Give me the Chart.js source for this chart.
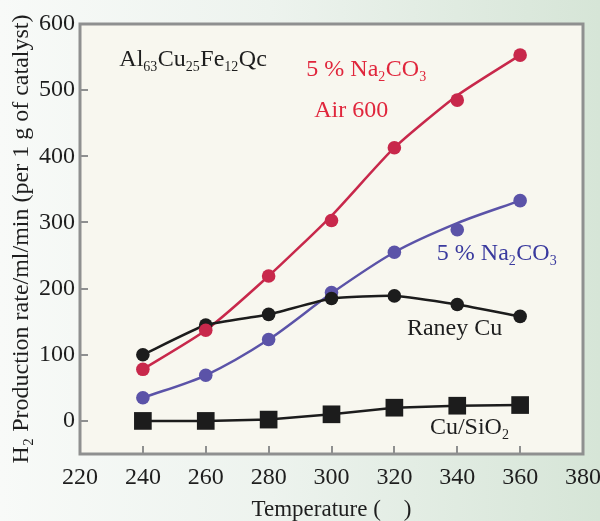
<!DOCTYPE html>
<html>
<head>
<meta charset="utf-8">
<script src="https://cdn.jsdelivr.net/npm/chart.js@4/dist/chart.umd.min.js"></script>
<style>
  html, body { margin: 0; padding: 0; }
  body {
    width: 600px; height: 521px; overflow: hidden;
    background: linear-gradient(to right, #f8faf8 0%, #edf3ee 45%, #d6e5d7 100%);
  }
  canvas { display: block; }
</style>
</head>
<body>
<canvas id="c" width="600" height="521"></canvas>
<script>
// ---- data ----
const temperatures = [240, 260, 280, 300, 320, 340, 360];
// measured points
const naAir600 = [78, 137, 219, 303, 413, 485, 553];
const na2co3 = [35, 69, 123, 194, 255, 289, 333];
const raneyCu = [100, 145, 161, 185, 189, 176, 158];
const cuSiO2 = [0, 0, 2, 10, 20, 23, 24];
// smooth trend curves as drawn in the figure (read at each temperature)
const naAir600Curve = [78, 137, 219, 310, 413, 492, 553];
const na2co3Curve = [35, 69, 123, 193, 255, 299, 333];
const xTickValues = [220, 240, 260, 280, 300, 320, 340, 360, 380];
const yTickValues = [0, 100, 200, 300, 400, 500, 600];

// annotation texts: segments [text, isSubscript]
const annotations = [
  { parts: [["Al", 0], ["63", 1], ["Cu", 0], ["25", 1], ["Fe", 0], ["12", 1], ["Qc", 0]], x: 232.5, y: 536, color: "#1e1e1e" },
  { parts: [["5 % Na", 0], ["2", 1], ["CO", 0], ["3", 1]], x: 292, y: 521, color: "#e0263c" },
  { parts: [["Air 600", 0]], x: 294.5, y: 459, color: "#e0263c" },
  { parts: [["5 % Na", 0], ["2", 1], ["CO", 0], ["3", 1]], x: 333.5, y: 244, color: "#3a3a9e" },
  { parts: [["Raney Cu", 0]], x: 324, y: 129.5, color: "#1e1e1e" },
  { parts: [["Cu/SiO", 0], ["2", 1]], x: 331.3, y: -19.5, color: "#1e1e1e" }
];

const SERIF = "'Liberation Serif', 'Times New Roman', serif";
const FRAME = "#8f9090";
const RED = '#c8284b', BLUE = '#5b53a8', BLACK = '#1c1c1c';

function pts(vals) { return temperatures.map((t, i) => ({ x: t, y: vals[i] })); }

const framePlugin = {
  id: 'frame',
  beforeDatasetsDraw(chart) {
    const { ctx, chartArea: a } = chart;
    ctx.save();
    ctx.fillStyle = "#f8f7ef";
    ctx.fillRect(a.left, a.top, a.right - a.left, a.bottom - a.top);
    ctx.strokeStyle = FRAME;
    ctx.lineWidth = 2;
    const xs = chart.scales.x, ys = chart.scales.y;
    ctx.beginPath();
    xTickValues.forEach(v => {
      const px = Math.round(xs.getPixelForValue(v));
      ctx.moveTo(px, a.bottom); ctx.lineTo(px, a.bottom - 8);
    });
    yTickValues.forEach(v => {
      const py = Math.round(ys.getPixelForValue(v));
      ctx.moveTo(a.left, py); ctx.lineTo(a.left + 8, py);
    });
    ctx.stroke();
    ctx.lineWidth = 3;
    ctx.strokeRect(a.left, a.top, a.right - a.left, a.bottom - a.top);
    ctx.restore();
  },
  afterDatasetsDraw(chart) {
    const { ctx } = chart;
    const xs = chart.scales.x, ys = chart.scales.y;
    ctx.save();
    ctx.textBaseline = 'alphabetic';
    ctx.textAlign = 'left';
    annotations.forEach(an => {
      let px = xs.getPixelForValue(an.x);
      const py = ys.getPixelForValue(an.y);
      ctx.fillStyle = an.color;
      an.parts.forEach(([t, sub]) => {
        ctx.font = (sub ? "14px " : "24px ") + SERIF;
        ctx.fillText(t, px, py + (sub ? 5 : 0));
        px += ctx.measureText(t).width + (sub ? 0.5 : 0);
      });
    });
    ctx.restore();
  }
};

new Chart(document.getElementById('c'), {
  type: 'scatter',
  data: {
    datasets: [
      { label: '5 % Na2CO3 Air 600', data: pts(naAir600), showLine: false,
        backgroundColor: RED, borderColor: RED, pointRadius: 6.8, pointBorderWidth: 0 },
      { label: 'Raney Cu', data: pts(raneyCu), showLine: true,
        borderColor: BLACK, backgroundColor: BLACK, borderWidth: 2.5,
        pointRadius: 6.8, pointBorderWidth: 0, tension: 0.15 },
      { label: 'trend Air 600', data: pts(naAir600Curve), showLine: true,
        borderColor: RED, borderWidth: 2.5, pointRadius: 0, tension: 0.2 },
      { label: '5 % Na2CO3', data: pts(na2co3), showLine: false,
        backgroundColor: BLUE, borderColor: BLUE, pointRadius: 6.8, pointBorderWidth: 0 },
      { label: 'trend Na2CO3', data: pts(na2co3Curve), showLine: true,
        borderColor: BLUE, borderWidth: 2.5, pointRadius: 0, tension: 0.3 },
      { label: 'Cu/SiO2', data: pts(cuSiO2), showLine: true,
        borderColor: BLACK, backgroundColor: BLACK, borderWidth: 2.5,
        pointStyle: 'rect', pointRadius: 12.5, pointBorderWidth: 0, tension: 0 }
    ]
  },
  options: {
    responsive: false,
    animation: false,
    devicePixelRatio: 1,
    layout: { padding: { top: 24, right: 17, left: 0, bottom: 0 } },
    plugins: { legend: { display: false }, tooltip: { enabled: false } },
    scales: {
      x: {
        type: 'linear', min: 220, max: 380,
        afterBuildTicks: s => { s.ticks = xTickValues.map(v => ({ value: v })); },
        afterFit: s => { s.height = 67; s.paddingLeft = 0; s.paddingRight = 0; },
        grid: { display: false, drawTicks: false },
        border: { display: false },
        ticks: { color: '#1e1e1e', font: { family: SERIF, size: 24 }, padding: 9, maxRotation: 0 },
        title: { display: true, text: 'Temperature (    )', color: '#1e1e1e',
                 font: { family: SERIF, size: 23, lineHeight: 1 }, padding: { top: 0, bottom: 0 } }
      },
      y: {
        type: 'linear', min: -50, max: 600,
        afterBuildTicks: s => { s.ticks = yTickValues.map(v => ({ value: v })); },
        afterFit: s => { s.width = 80; s.paddingTop = 0; s.paddingBottom = 0; },
        grid: { display: false, drawTicks: false },
        border: { display: false },
        ticks: { color: '#1e1e1e', font: { family: SERIF, size: 24 }, padding: 5 },
        title: { display: true, text: 'H\u2082 Production rate/ml/min (per 1 g of catalyst)', color: '#1e1e1e',
                 font: { family: SERIF, size: 24, lineHeight: 1 }, padding: { top: 10, bottom: 0 } }
      }
    }
  },
  plugins: [framePlugin]
});
</script>
</body>
</html>
